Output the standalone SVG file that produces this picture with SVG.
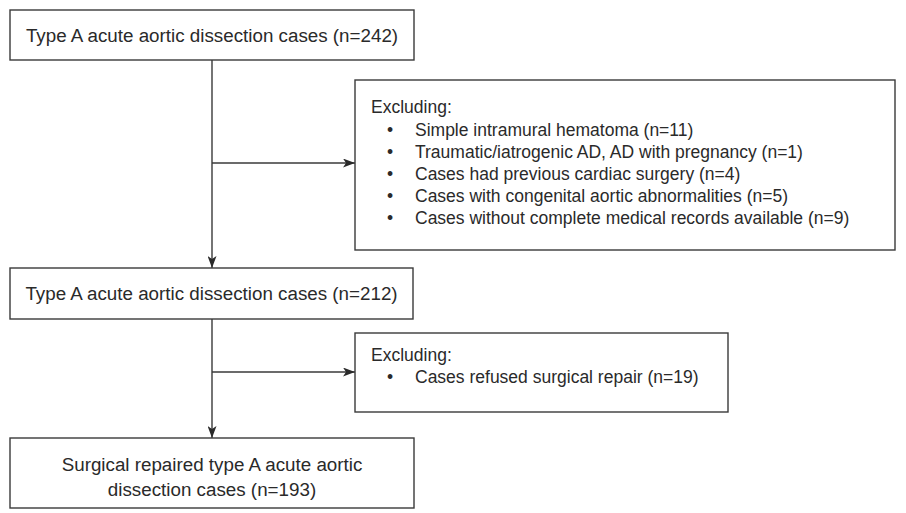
<svg xmlns="http://www.w3.org/2000/svg" width="906" height="513" viewBox="0 0 906 513">
<style>
.box{fill:#fff;stroke:#3a3a3a;stroke-width:1.4}
.t{font-family:"Liberation Sans",Arial,sans-serif;font-size:17.5px;fill:#2a2a2a}
.m{font-family:"Liberation Sans",Arial,sans-serif;font-size:18.8px;fill:#2a2a2a}
.c{stroke:#3a3a3a;stroke-width:1.4;fill:none}
</style>
<defs>
<marker id="ah" viewBox="0 0 12 9" refX="12" refY="4.5" markerWidth="12" markerHeight="9" markerUnits="userSpaceOnUse" orient="auto">
<path d="M0,0 L12,4.5 L0,9 L3,4.5 Z" fill="#2a2a2a"/>
</marker>
</defs>
<rect width="906" height="513" fill="#fff"/>
<g id="connectors">
<line class="c" x1="212" y1="60" x2="212" y2="268" marker-end="url(#ah)"/>
<line class="c" x1="212" y1="163" x2="355" y2="163" marker-end="url(#ah)"/>
<line class="c" x1="212" y1="319" x2="212" y2="438" marker-end="url(#ah)"/>
<line class="c" x1="212" y1="372" x2="355" y2="372" marker-end="url(#ah)"/>
</g>
<g id="n1">
<rect class="box" x="10" y="10" width="404" height="50"/>
<text class="m" x="212" y="42" text-anchor="middle">Type A acute aortic dissection cases (n=242)</text>
</g>
<g id="ex1">
<rect class="box" x="355" y="80" width="540" height="170"/>
<text class="t" x="371" y="113">Excluding:</text>
<g class="t">
<text x="387" y="136">•</text><text x="415" y="136">Simple intramural hematoma (n=11)</text>
<text x="387" y="158">•</text><text x="415" y="158">Traumatic/iatrogenic AD, AD with pregnancy (n=1)</text>
<text x="387" y="180">•</text><text x="415" y="180">Cases had previous cardiac surgery (n=4)</text>
<text x="387" y="202">•</text><text x="415" y="202">Cases with congenital aortic abnormalities (n=5)</text>
<text x="387" y="224">•</text><text x="415" y="224">Cases without complete medical records available (n=9)</text>
</g>
</g>
<g id="n2">
<rect class="box" x="10" y="268" width="403" height="51"/>
<text class="m" x="211.5" y="300" text-anchor="middle">Type A acute aortic dissection cases (n=212)</text>
</g>
<g id="ex2">
<rect class="box" x="355" y="333" width="373" height="79"/>
<text class="t" x="371" y="361">Excluding:</text>
<text class="t" x="387" y="383">•</text><text class="t" x="415" y="383">Cases refused surgical repair (n=19)</text>
</g>
<g id="n3">
<rect class="box" x="10" y="438" width="404" height="70"/>
<text class="m" x="212" y="471" text-anchor="middle">Surgical repaired type A acute aortic</text>
<text class="m" x="212" y="496" text-anchor="middle">dissection cases (n=193)</text>
</g>
</svg>
